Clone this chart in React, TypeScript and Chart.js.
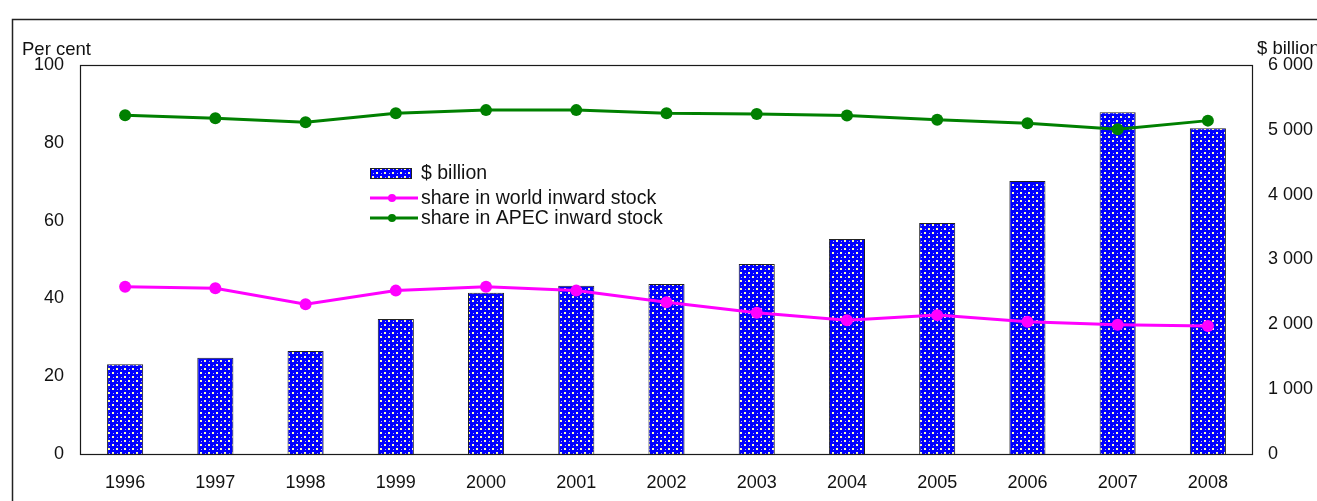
import React, { useEffect, useRef } from "react";
import { Chart, registerables } from "chart.js";

Chart.register(...registerables);

const years = ["1996", "1997", "1998", "1999", "2000", "2001", "2002", "2003", "2004", "2005", "2006", "2007", "2008"];
const stockBillion = [1384, 1486, 1589, 2082, 2488, 2596, 2622, 2931, 3316, 3563, 4211, 5270, 5024];
const worldShare = [43.0, 42.6, 38.5, 42.0, 43.0, 42.0, 39.0, 36.3, 34.4, 35.7, 34.0, 33.2, 32.9];
const apecShare = [87.1, 86.3, 85.3, 87.6, 88.4, 88.4, 87.6, 87.4, 87.0, 85.9, 85.0, 83.5, 85.7];
const leftTicks = [0, 20, 40, 60, 80, 100];
const rightTicks = [0, 1000, 2000, 3000, 4000, 5000, 6000];

const seriesLabels = ["$ billion", "share in world inward stock", "share in APEC inward stock"];
const leftTitle = "Per cent";
const rightTitle = "$ billion";

const FONT = "'Liberation Sans', Arial, sans-serif";
const TEXT = "#111";

function makePattern(ctx: CanvasRenderingContext2D): CanvasPattern | string {
  const c = document.createElement("canvas");
  c.width = 8;
  c.height = 8;
  const g = c.getContext("2d");
  if (!g) return "#0000ff";
  g.fillStyle = "#0000ff";
  g.fillRect(0, 0, 8, 8);
  // cream gaps between blue dots
  g.fillStyle = "#ffffb8";
  g.fillRect(4, 0, 2, 2);
  g.fillRect(0, 4, 2, 2);
  // small highlights in blue dots
  g.fillStyle = "#b0b0ff";
  g.fillRect(1, 1, 1, 1);
  g.fillRect(5, 5, 1, 1);
  return ctx.createPattern(c, "repeat") || "#0000ff";
}

const fmt = (v: number) => {
  const s = String(Math.round(v));
  return s.length > 3 ? s.slice(0, s.length - 3) + " " + s.slice(s.length - 3) : s;
};

export default function App() {
  const ref = useRef<HTMLCanvasElement | null>(null);

  useEffect(() => {
    const canvas = ref.current;
    if (!canvas) return;
    const ctx = canvas.getContext("2d");
    if (!ctx) return;
    const pattern = makePattern(ctx);

    const decor = {
      id: "decor",
      afterDraw(chart: any) {
        const c = chart.ctx as CanvasRenderingContext2D;
        const a = chart.chartArea;
        c.save();
        // outer frame
        c.strokeStyle = "#222";
        c.lineWidth = 1.5;
        c.beginPath();
        c.moveTo(12.5, 520);
        c.lineTo(12.5, 19.5);
        c.lineTo(1330, 19.5);
        c.stroke();
        // plot border
        c.lineWidth = 1.2;
        c.strokeStyle = "#1a1a1a";
        c.strokeRect(a.left + 0.5, a.top + 0.5, a.right - a.left - 1, a.bottom - a.top);
        // axis titles
        c.fillStyle = TEXT;
        c.font = `18.5px ${FONT}`;
        c.textBaseline = "alphabetic";
        c.textAlign = "left";
        c.fillText(leftTitle, 22, 55);
        c.fillText(rightTitle, 1257, 54);
        // legend
        const lx = 370;
        const tx = 421;
        c.font = `19.5px ${FONT}`;
        c.textBaseline = "middle";
        // bar row
        c.fillStyle = pattern as any;
        c.fillRect(lx, 168, 42, 11);
        c.strokeStyle = "#222";
        c.lineWidth = 1;
        c.strokeRect(lx + 0.5, 168.5, 41, 10);
        c.fillStyle = TEXT;
        c.fillText(seriesLabels[0], tx, 174);
        // line rows
        const rows = [
          { y: 198, color: "#ff00ff", label: seriesLabels[1] },
          { y: 218, color: "#008000", label: seriesLabels[2] },
        ];
        rows.forEach((r) => {
          c.strokeStyle = r.color;
          c.lineWidth = 3;
          c.beginPath();
          c.moveTo(lx, r.y);
          c.lineTo(418, r.y);
          c.stroke();
          c.fillStyle = r.color;
          c.beginPath();
          c.arc(392, r.y, 4, 0, Math.PI * 2);
          c.fill();
          c.fillStyle = TEXT;
          c.fillText(r.label, tx, r.y + 1);
        });
        c.restore();
      },
    };

    const chart = new Chart(canvas, {
      type: "bar",
      data: {
        labels: years,
        datasets: [
          {
            type: "line",
            label: seriesLabels[1],
            data: worldShare,
            yAxisID: "y",
            borderColor: "#ff00ff",
            backgroundColor: "#ff00ff",
            borderWidth: 3,
            pointRadius: 6,
            pointBorderWidth: 0,
            tension: 0,
            order: 1,
          },
          {
            type: "line",
            label: seriesLabels[2],
            data: apecShare,
            yAxisID: "y",
            borderColor: "#008000",
            backgroundColor: "#008000",
            borderWidth: 3,
            pointRadius: 6,
            pointBorderWidth: 0,
            tension: 0,
            order: 2,
          },
          {
            type: "bar",
            label: seriesLabels[0],
            data: stockBillion,
            yAxisID: "y1",
            backgroundColor: pattern as any,
            borderColor: "#222",
            borderWidth: 1,
            barPercentage: 0.4,
            categoryPercentage: 1,
            order: 3,
          },
        ] as any,
      },
      options: {
        responsive: false,
        animation: false,
        devicePixelRatio: 1,
        layout: { padding: { top: 65, left: 0, right: 0, bottom: 0 } },
        plugins: { legend: { display: false }, tooltip: { enabled: false } },
        scales: {
          x: {
            grid: { display: false, drawTicks: false },
            border: { display: false },
            ticks: { padding: 18, color: TEXT, font: { family: FONT, size: 18 }, maxRotation: 0 },
            afterFit: (s: any) => {
              s.height = 47;
            },
          },
          y: {
            position: "left",
            min: 0,
            max: 100,
            afterBuildTicks: (s: any) => {
              s.ticks = leftTicks.map((v) => ({ value: v }));
            },
            grid: { display: false, drawTicks: false },
            border: { display: false },
            ticks: { padding: 16, color: TEXT, font: { family: FONT, size: 18 } },
            afterFit: (s: any) => {
              s.width = 80;
            },
          },
          y1: {
            position: "right",
            min: 0,
            max: 6000,
            afterBuildTicks: (s: any) => {
              s.ticks = rightTicks.map((v) => ({ value: v }));
            },
            grid: { display: false, drawTicks: false },
            border: { display: false },
            ticks: {
              padding: 15,
              color: TEXT,
              font: { family: FONT, size: 18 },
              callback: (v: any) => fmt(Number(v)),
            },
            afterFit: (s: any) => {
              s.width = 64;
            },
          },
        },
      } as any,
      plugins: [decor],
    });

    return () => chart.destroy();
  }, []);

  return (
    <div style={{ position: "absolute", left: 0, top: 0, width: 1317, height: 501, background: "#fff" }}>
      <canvas ref={ref} width={1317} height={501} style={{ display: "block", width: 1317, height: 501 }} />
    </div>
  );
}
